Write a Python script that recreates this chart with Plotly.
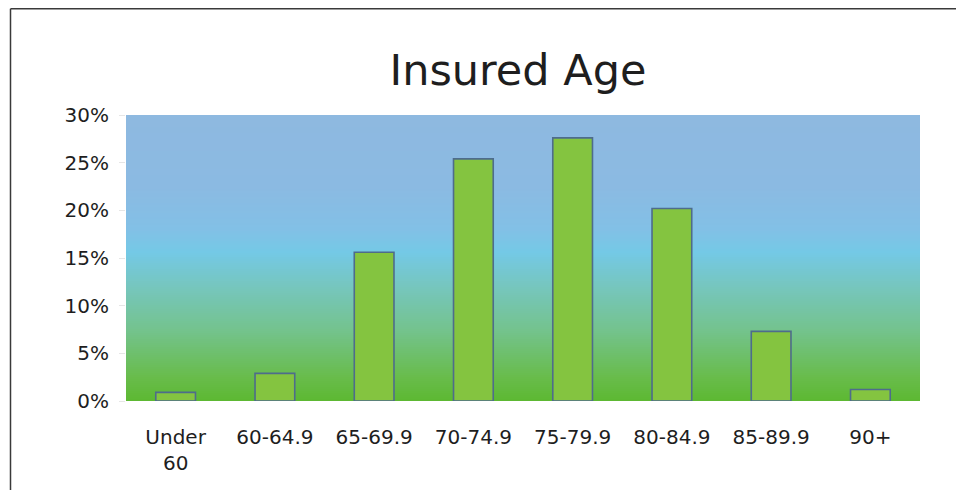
import plotly.graph_objects as go

categories = ["Under<br>60", "60-64.9", "65-69.9", "70-74.9", "75-79.9", "80-84.9", "85-89.9", "90+"]
values = [0.9, 2.9, 15.6, 25.4, 27.6, 20.2, 7.3, 1.2]
tick_vals = [0, 5, 10, 15, 20, 25, 30]
tick_text = ["0%", "5%", "10%", "15%", "20%", "25%", "30%"]
title_text = "Insured Age"

# background gradient stops (fraction from bottom, colour)
grad_stops = [
    (0.00, "#5DB832"),
    (0.08, "#68BC4A"),
    (0.25, "#74C38E"),
    (0.40, "#76C6BE"),
    (0.52, "#74C9E6"),
    (0.60, "#82C0E6"),
    (0.75, "#8BBAE2"),
    (1.00, "#8EB9E0"),
]


def hex_to_rgb(h):
    h = h.lstrip("#")
    return tuple(int(h[i:i + 2], 16) for i in (0, 2, 4))


def interp(t):
    for (t0, c0), (t1, c1) in zip(grad_stops[:-1], grad_stops[1:]):
        if t0 <= t <= t1:
            f = (t - t0) / (t1 - t0) if t1 > t0 else 0
            a, b = hex_to_rgb(c0), hex_to_rgb(c1)
            return "rgb(%d,%d,%d)" % tuple(round(a[i] + (b[i] - a[i]) * f) for i in range(3))
    return grad_stops[-1][1]


shapes = []
n = 143
for i in range(n):
    y0 = i / n
    y1 = (i + 1.5) / n
    shapes.append(dict(type="rect", xref="x domain", yref="y domain",
                       x0=0, x1=1, y0=y0, y1=min(y1, 1),
                       fillcolor=interp((i + 0.5) / n), line=dict(width=0),
                       layer="below"))

# page has an 8px body margin; figure sized to fit the 964x490 window
OFF = 8
W, H = 964 - OFF, 490 - OFF
ml, mr, mt, mb = 126 - OFF, 44, 115 - OFF, 89
pw, ph = W - ml - mr, H - mt - mb
fx = (10.5 - OFF) / pw - ml / pw
fy = 1 + (mt - 0.75) / ph
shapes.append(dict(type="line", xref="paper", yref="paper", x0=fx, x1=1 + mr / pw + 0.01,
                   y0=fy, y1=fy, line=dict(color="#3a3a3a", width=1.5)))
shapes.append(dict(type="line", xref="paper", yref="paper", x0=fx, x1=fx,
                   y0=fy, y1=-mb / ph - 0.01, line=dict(color="#3a3a3a", width=1.5)))

fig = go.Figure()
fig.add_trace(go.Bar(
    x=categories, y=values,
    marker=dict(color="#84C440", line=dict(color="#4E6C8C", width=1.6)),
    width=0.4,
    hoverinfo="x+y",
))

fig.update_layout(
    width=W, height=H,
    margin=dict(l=ml, r=mr, t=mt, b=mb),
    paper_bgcolor="white",
    plot_bgcolor="rgba(0,0,0,0)",
    showlegend=False,
    shapes=shapes,
    title=dict(text=title_text, x=(518 - OFF) / W, xanchor="center",
               y=1 - (70 - OFF) / H, yanchor="middle",
               font=dict(family="DejaVu Sans", size=43, color="#1e1e1e")),
    font=dict(family="DejaVu Sans", size=20, color="#1e1e1e"),
)
fig.update_xaxes(showgrid=False, zeroline=False, showline=False,
                 ticks="", ticklabelstandoff=22,
                 tickfont=dict(size=20, color="#1e1e1e"))
fig.update_yaxes(range=[0, 30], tickvals=tick_vals, ticktext=tick_text,
                 showgrid=False, zeroline=False, showline=False,
                 ticks="outside", ticklen=6, tickcolor="#e6e6e6",
                 ticklabelstandoff=6,
                 tickfont=dict(size=20, color="#1e1e1e"))

fig.write_html("out.html")
